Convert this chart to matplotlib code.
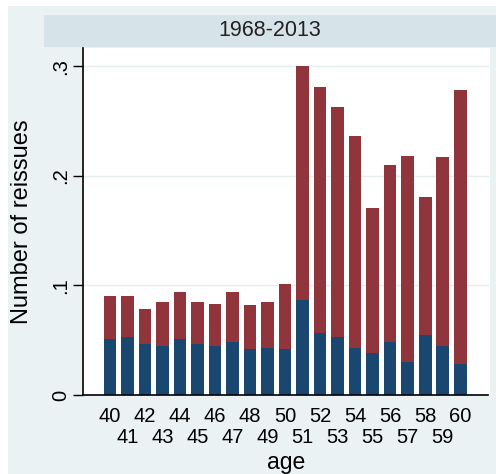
import numpy as np
import matplotlib.pyplot as plt
from matplotlib.patches import Rectangle

plt.rcParams['font.family'] = ['Liberation Sans', 'DejaVu Sans']

# data
ages = list(range(40, 61))
lower = [0.0514, 0.0532, 0.0468, 0.0450, 0.0514, 0.0468, 0.0450, 0.0483, 0.0416,
         0.0432, 0.0416, 0.0862, 0.0565, 0.0532, 0.0432, 0.0383, 0.0483, 0.0301,
         0.0550, 0.0450, 0.0286]
total = [0.0899, 0.0899, 0.0780, 0.0847, 0.0944, 0.0847, 0.0832, 0.0944, 0.0817,
         0.0847, 0.1010, 0.3005, 0.2810, 0.2627, 0.2365, 0.1703, 0.2098, 0.2183,
         0.1803, 0.2168, 0.2778]
upper = [t - l for t, l in zip(total, lower)]
yticks = [0, 0.1, 0.2, 0.3]
yticklabels = ['0', '.1', '.2', '.3']
panel_title = '1968-2013'

navy = '#1a476f'
maroon = '#90353b'
bg = '#eaf2f3'
strip = '#d6e3e8'

W, H = 496, 474
fig = plt.figure(figsize=(W / 100, H / 100), dpi=100)
fig.patch.set_facecolor('white')

# outer graph region
fig.patches.append(Rectangle((8 / W, 0), 1, 1 - 6 / H, transform=fig.transFigure,
                             facecolor=bg, edgecolor='none', zorder=-10))
# by-group title strip
fig.patches.append(Rectangle((44 / W, 1 - 47 / H), 1, 32 / H, transform=fig.transFigure,
                             facecolor=strip, edgecolor='none', zorder=-9))
fig.text(269.5 / W, 1 - 30 / H, panel_title, ha='center', va='center',
         fontsize=15.5, color='#222222')

ax = fig.add_axes([83 / W, 1 - 395 / H, (490 - 83) / W, (395 - 48) / H])
ax.set_facecolor('white')

x = np.array(ages)
ax.bar(x, lower, width=0.72, color=navy, zorder=2)
ax.bar(x, upper, bottom=lower, width=0.72, color=maroon, zorder=2)

ax.set_xlim(38.46, 61.7)
ax.set_ylim(0, 0.3165)
ax.set_yticks(yticks)
ax.set_yticklabels(yticklabels, rotation=90, va='center', fontsize=14.5)
for v in yticks[1:]:
    ax.axhline(v, xmin=0, xmax=0.995, color='#e3efef', lw=1, zorder=1)

# even ages on the first row, odd ages staggered below
even = [a for a in ages if a % 2 == 0]
odd = [a for a in ages if a % 2 == 1]
ax.set_xticks(even)
ax.set_xticklabels([str(a) for a in even], fontsize=14.5)
ax.set_xticks(odd, minor=True)
ax.set_xticklabels([str(a) for a in odd], minor=True, fontsize=14.5)
ax.tick_params(axis='x', which='major', length=0, pad=8.5)
ax.tick_params(axis='x', which='minor', length=0, pad=23.5)
ax.tick_params(axis='y', length=7.5, width=1, pad=2)

for s in ['top', 'right']:
    ax.spines[s].set_visible(False)
ax.spines['left'].set_linewidth(1.2)
ax.spines['bottom'].set_linewidth(1.2)
ax.spines['bottom'].set_bounds(38.46, 61.6)

ax.set_ylabel('Number of reissues', fontsize=17, va='center')
ax.yaxis.set_label_coords((22 - 83) / 407, 0.5)
ax.set_xlabel('age', fontsize=16.5, va='center')
ax.xaxis.set_label_coords(0.5, (395 - 463) / 347)

fig.savefig('out.png', dpi=100)
